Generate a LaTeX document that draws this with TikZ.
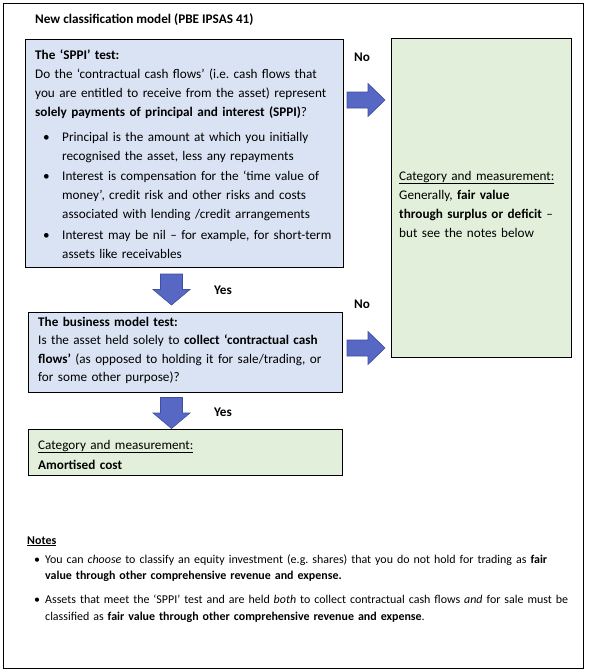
\documentclass[tikz,border=0pt]{standalone}
\usepackage{fontspec}
\setmainfont{Carlito}
\usetikzlibrary{calc}

\definecolor{sppiblue}{HTML}{DAE3F3}
\definecolor{measgreen}{HTML}{E2EFDA}
\definecolor{arrowblue}{HTML}{5767C4}
\definecolor{arrowedge}{HTML}{3E4FA0}

\newcommand{\boxfont}{\fontsize{13.2}{19}\selectfont\frenchspacing}
\newcommand{\bizfont}{\fontsize{13.2}{18.5}\selectfont\frenchspacing}
\newcommand{\amortfont}{\fontsize{13.2}{20}\selectfont\frenchspacing}
\newcommand{\notefont}{\fontsize{11.95}{16.5}\selectfont\frenchspacing}
\newcommand{\uln}[1]{\underline{#1}}
\newcommand{\nl}{\hfil\break}
\newcommand{\boxitem}[1]{\par\vspace{#1}\hangindent=27pt\hangafter=1\noindent\hbox to 27pt{\hskip 8pt\textbullet\hss}}
\newcommand{\noteitem}[1]{\par\vspace{#1}\hangindent=18pt\hangafter=1\noindent\hbox to 18pt{\hskip 7pt\textbullet\hss}}

\tikzset{
  box/.style={draw=black, line width=0.8pt, anchor=north west, inner sep=0pt},
  testbox/.style={box, fill=sppiblue},
  resultbox/.style={box, fill=measgreen},
  boxtext/.style={anchor=base west, align=left, inner sep=0pt, font=\boxfont},
  lbl/.style={font=\boxfont\bfseries, inner sep=0pt},
  arrowbody/.style={fill=arrowblue, draw=arrowedge, line width=0.6pt},
  rarrow/.pic={\filldraw[arrowbody] (-19,-8) -- (2,-8) -- (2,-16.5) -- (19,0)
    -- (2,16.5) -- (2,8) -- (-19,8) -- cycle;},
  darrow/.pic={\filldraw[arrowbody] (-11,-15.5) -- (11,-15.5) -- (11,0) -- (18.5,0)
    -- (0,15.5) -- (-18.5,0) -- (-11,0) -- cycle;},
}

\begin{document}
\begin{tikzpicture}[x=1pt,y=-1pt]
\useasboundingbox (0,0) rectangle (589,670);
\draw[line width=0.8pt] (3,3) rectangle (583,668);

\node[anchor=base west, inner sep=0pt, font=\boxfont\bfseries] (title) at (35,23.5)
  {New classification model (PBE IPSAS 41)};

% the two tests
\node[testbox, minimum width=318pt, minimum height=228pt] (sppi) at (25,39) {};
\node[boxtext, text width=300pt] (sppitext) at ([xshift=10pt,yshift=-20pt]sppi.north west)
  {\textbf{The ‘SPPI’ test:}\nl
   Do the ‘contractual cash flows’ (i.e. cash flows that\nl
   you are entitled to receive from the asset) represent\nl
   \textbf{solely payments of principal and interest (SPPI)}?
   \boxitem{6pt}Principal is the amount at which you initially\nl
   recognised the asset, less any repayments
   \boxitem{1pt}Interest is compensation for the ‘time value of\nl
   money’, credit risk and other risks and costs\nl
   associated with lending /credit arrangements
   \boxitem{2pt}Interest may be nil – for example, for short-term\nl
   assets like receivables\par};

\node[testbox, minimum width=314pt, minimum height=80pt] (biz) at (28,312) {};
\node[boxtext, text width=300pt, font=\bizfont] (biztext) at ([xshift=10pt,yshift=-14pt]biz.north west)
  {\textbf{The business model test:}\nl
   Is the asset held solely to \textbf{collect ‘contractual cash}\nl
   \textbf{flows’} (as opposed to holding it for sale/trading, or\nl
   for some other purpose)?};

% outcomes
\node[resultbox, minimum width=314pt, minimum height=46pt] (amort) at (28,429) {};
\node[boxtext, text width=300pt, font=\amortfont] (amorttext) at ([xshift=10pt,yshift=-20pt]amort.north west)
  {\uln{Category and measurement:}\nl
   \textbf{Amortised cost}};

\node[resultbox, minimum width=180pt, minimum height=319pt] (fv) at (391,38) {};
\node[boxtext, text width=170pt] (fvtext) at ([xshift=8pt,yshift=-142pt]fv.north west)
  {\uln{Category and measurement:}\nl
   Generally, \textbf{fair value}\nl
   \textbf{through surplus or deficit} –\nl
   but see the notes below};

% block arrows and their labels
\pic at (366,100) {rarrow};
\pic at (366,348) {rarrow};
\pic at (171.5,289.5) {darrow};
\pic at (171.5,413) {darrow};
\node[lbl] (no1) at (362,57) {No};
\node[lbl] (no2) at (362,304) {No};
\node[lbl] (yes1) at (223,290) {Yes};
\node[lbl] (yes2) at (223,412) {Yes};

% notes
\node[anchor=base west, align=left, inner sep=0pt, text width=555pt, font=\notefont] (notes) at (27,544)
  {\textbf{\uln{Notes}}
   \noteitem{2.5pt}You can \textit{choose} to classify an equity investment (e.g. shares) that you do not hold for trading as \textbf{fair}\nl
   \textbf{value through other comprehensive revenue and expense.}
   \noteitem{7.5pt}Assets that meet the ‘SPPI’ test and are held \textit{both} to collect contractual cash flows \textit{and} for sale must be\nl
   classified as \textbf{fair value through other comprehensive revenue and expense}.\par};
\end{tikzpicture}
\end{document}
